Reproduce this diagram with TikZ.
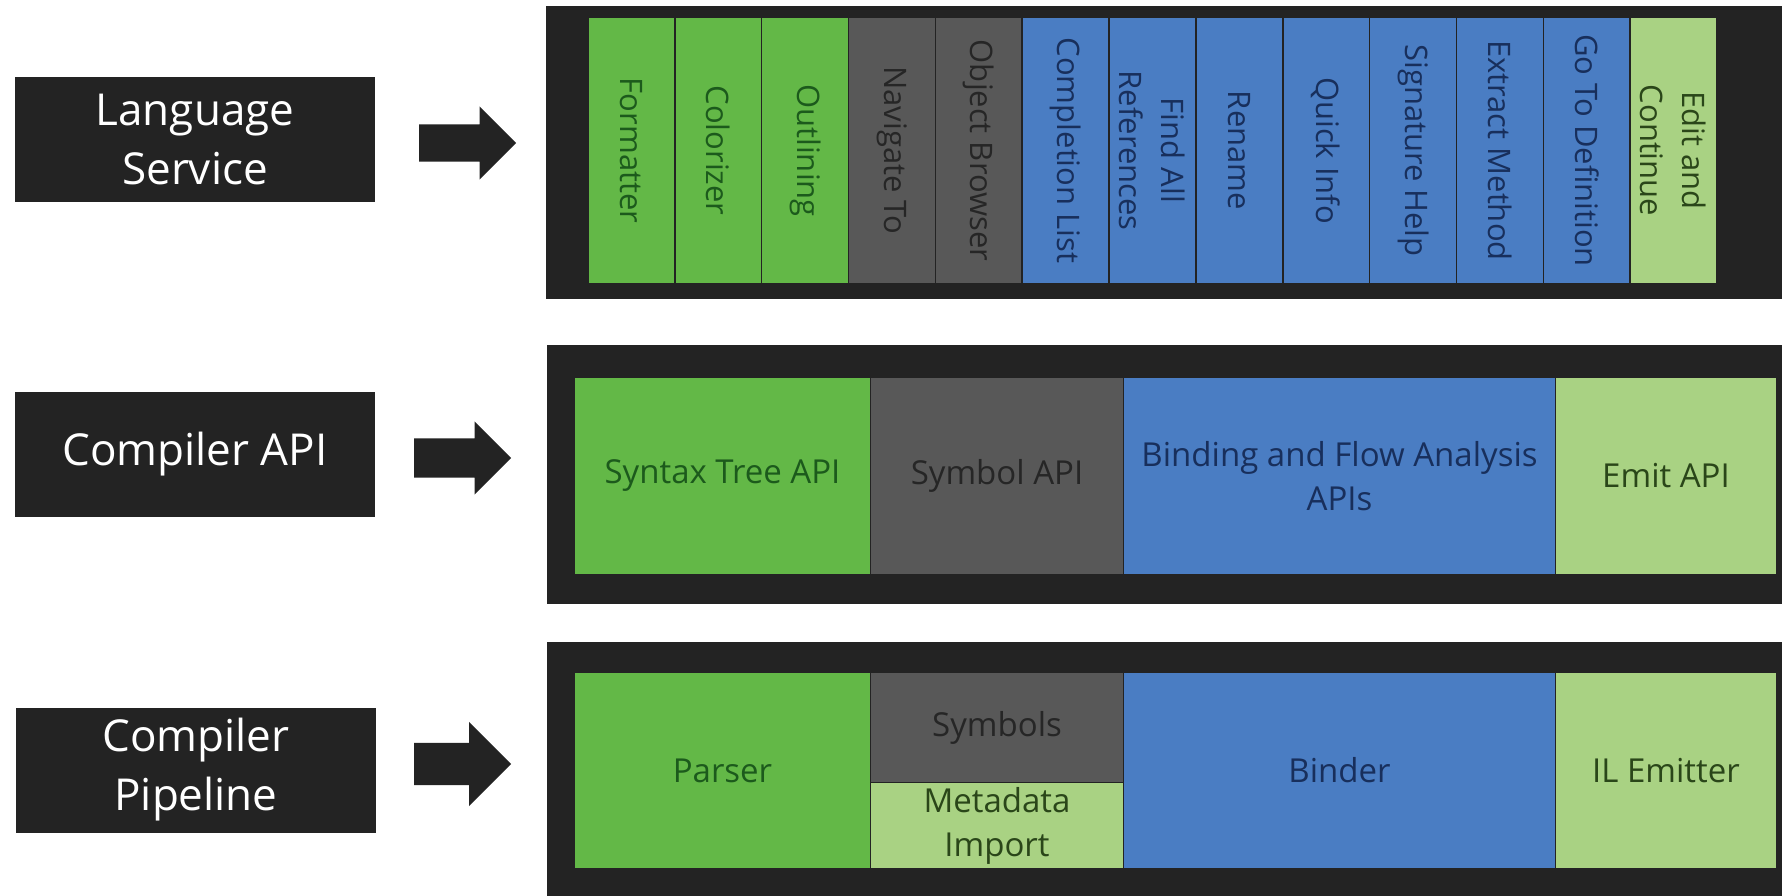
\documentclass[tikz,border=0pt]{standalone}
\usepackage{fontspec}
\setmainfont{Open Sans}
\usetikzlibrary{shapes.arrows}
\definecolor{dk}{HTML}{232323}
\definecolor{gr}{HTML}{63B847}
\definecolor{gy}{HTML}{585858}
\definecolor{bl}{HTML}{4A7DC3}
\definecolor{lg}{HTML}{A9D283}
\definecolor{grT}{HTML}{1C5A1C}
\definecolor{gyT}{HTML}{262626}
\definecolor{blT}{HTML}{182F5C}
\definecolor{lgT}{HTML}{2A4619}
\begin{document}
\begin{tikzpicture}[x=1pt,y=-1pt,
  lab/.style={fill=dk, text=white, font=\fontsize{44}{59}\selectfont, align=center,
    inner sep=0, minimum width=360, minimum height=125},
  panel/.style={fill=dk, inner sep=0, anchor=north west},
  barrow/.style={single arrow, fill=dk, inner xsep=0, single arrow tip angle=90,
    minimum height=97, anchor=tail},
  strip/.style={rotate=-90, draw=dk, line width=1.5pt, inner sep=0, align=center,
    minimum width=267, minimum height=86.85, font=\fontsize{31}{42}\selectfont},
  blk/.style={draw=dk, line width=1pt, inner sep=0, anchor=north west, align=center,
    font=\fontsize{33}{44}\selectfont},
  cg/.style={fill=gr, text=grT},
  cy/.style={fill=gy, text=gyT},
  cb/.style={fill=bl, text=blT},
  cl/.style={fill=lg, text=lgT}]
\useasboundingbox[fill=white] (0,0) rectangle (1782,896);

% left labels
\node[lab] (l1) at (195,139.5) {Language\\Service};
\node[lab] (l2) at (195,454.5) {Compiler API};
\node[lab] (l3) at (196,770) {Compiler\\Pipeline};

% panels
\node[panel, minimum width=1236, minimum height=293] (p1) at (546,6) {};
\node[panel, minimum width=1235, minimum height=259] (p2) at (547,345) {};
\node[panel, minimum width=1235, minimum height=254] (p3) at (547,642) {};

% arrows
\node[barrow, inner ysep=18.5, minimum width=73, single arrow head extend=18] (a1) at (419,143) {};
\node[barrow, inner ysep=19.5, minimum width=73, single arrow head extend=17] (a2) at (414,458) {};
\node[barrow, inner ysep=21, minimum width=84, single arrow head extend=21] (a3) at (414,764) {};

% language service strips
\node[strip, cg] (s1) at (631.4,150.5) {Formatter};
\node[strip, cg] (s2) at (718.3,150.5) {Colorizer};
\node[strip, cg] (s3) at (805.1,150.5) {Outlining};
\node[strip, cy] (s4) at (892.0,150.5) {Navigate To};
\node[strip, cy] (s5) at (978.8,150.5) {Object Browser};
\node[strip, cb] (s6) at (1065.7,150.5) {Completion List};
\node[strip, cb] (s7) at (1152.5,150.5) {Find All\\References};
\node[strip, cb] (s8) at (1239.4,150.5) {Rename};
\node[strip, cb] (s9) at (1326.2,150.5) {Quick Info};
\node[strip, cb] (s10) at (1413.1,150.5) {Signature Help};
\node[strip, cb] (s11) at (1499.9,150.5) {Extract Method};
\node[strip, cb] (s12) at (1586.8,150.5) {Go To Definition};
\node[strip, cl] (s13) at (1673.6,150.5) {Edit and\\Continue};

% compiler API
\node[blk, cg, minimum width=296, minimum height=197] (c1) at (574,377) {Syntax Tree API};
\node[blk, cy, minimum width=253, minimum height=197] (c2) at (870,377) {Symbol API};
\node[blk, cb, minimum width=432, minimum height=197] (c3) at (1123,377) {Binding and Flow Analysis\\APIs};
\node[blk, cl, minimum width=221, minimum height=197] (c4) at (1555,377) {Emit API};

% compiler pipeline
\node[blk, cg, minimum width=296, minimum height=196] (q1) at (574,672) {Parser};
\node[blk, cy, minimum width=253, minimum height=110] (q2) at (870,672) {Symbols};
\node[blk, cl, minimum width=253, minimum height=86] (q3) at (870,782) {Metadata\\Import};
\node[blk, cb, minimum width=432, minimum height=196] (q4) at (1123,672) {Binder};
\node[blk, cl, minimum width=221, minimum height=196] (q5) at (1555,672) {IL Emitter};
\end{tikzpicture}
\end{document}
